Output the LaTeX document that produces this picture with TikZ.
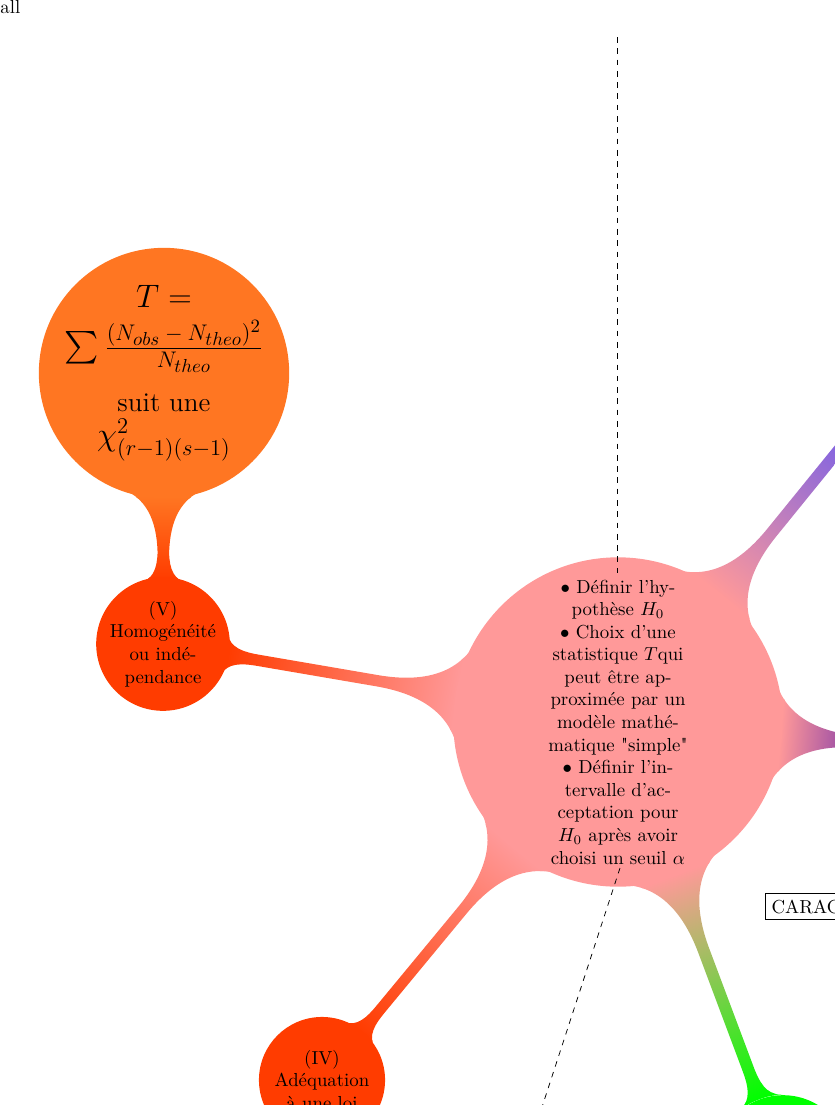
\documentclass[tikz,border=0pt]{standalone}
\usepackage{fontspec}
\usepackage{amsmath}
\usetikzlibrary{mindmap,positioning,backgrounds}

\definecolor{pinkc}{RGB}{255,153,153}
\definecolor{redc}{RGB}{255,60,0}
\definecolor{orangec}{RGB}{255,118,34}
\definecolor{violetc}{RGB}{95,85,245}
\definecolor{purplec}{RGB}{120,50,170}
\definecolor{greenc}{RGB}{0,255,0}

\newfontface\plainlm{lmroman10-regular.otf}
\newcommand{\plainquote}[1]{{\plainlm"}#1{\plainlm"}}

\begin{document}
\begin{tikzpicture}[x=0.5313pt,y=-0.5313pt,
    idea/.style={circle, inner sep=0pt, outer sep=0pt, align=center, text=black, line width=2pt},
    bigidea/.style={idea, fill=pinkc, draw=pinkc, minimum size=173pt},
    topidea/.style={idea, fill=orangec, draw=orangec, minimum size=131pt, inner sep=-8pt, font=\Large},
    branch/.style={idea, fill=redc, draw=redc, minimum size=69pt, inner sep=-2pt},
    offidea/.style={circle, minimum size=71pt},
    link/.style={line width=8pt},
    guide/.style={dashed, thin}]
  \useasboundingbox (0,0) rectangle (835,1105);

  \node[anchor=base west, inner sep=0pt] (tag) at (0,13) {all};

  % central concept
  \node[bigidea] (tests) at (618,722) {$\bullet$ Définir l'hy-\\ pothèse $H_0$\\
    $\bullet$ Choix d'une\\ statistique $T$qui\\ peut être ap-\\ proximée par un\\
    modèle mathé-\\ matique \plainquote{simple}\\ $\bullet$ Définir l'in-\\ tervalle d'ac-\\
    ceptation pour\\ $H_0$ après avoir\\ choisi un seuil $\alpha$};

  % children
  \node[branch] (homog) at (163,644) {(V)\\ Homogénéité\\ ou indé-\\ pendance};
  \node[topidea] (khi) at (164,373) {{\LARGE $T=$}\\[6pt]
    {\LARGE $\sum\frac{(N_{obs}\:-\:N_{theo})^2}{N_{theo}}$}\\[10pt]
    suit une\\ {\LARGE $\chi^2_{(r-1)(s-1)}$}};
  \node[branch, minimum size=65pt] (adeq) at (322,1080) {(IV)\\ Adéquation\\ à une loi};

  % branches leaving the page
  \node[offidea, fill=violetc] (upper) at (920,350) {};
  \node[offidea, fill=purplec] (right) at (935,748) {};
  \node[offidea, fill=greenc] (lower) at (783,1162) {};

  \node[draw, anchor=north west, inner sep=3.33pt, text width=3cm, align=left] (carac) at (765,893) {CARAC};

  % bars
  \begin{scope}[on background layer]
    \path[link] (khi) to[circle connection bar switch color=from (orangec) to (redc)] (homog);
    \path[link] (homog) to[circle connection bar switch color=from (redc) to (pinkc)] (tests);
    \path[link] (tests) to[circle connection bar switch color=from (pinkc) to (redc)] (adeq);
    \path[link] (tests) to[circle connection bar switch color=from (pinkc) to (violetc)] (upper);
    \path[link] (tests) to[circle connection bar switch color=from (pinkc) to (purplec)] (right);
    \path[link] (tests) to[circle connection bar switch color=from (pinkc) to (greenc)] (lower);
  \end{scope}

  % dashed guides
  \coordinate (rule top) at (617,37);
  \coordinate (rule a) at (617,577);
  \coordinate (rule b) at (620,868);
  \coordinate (rule bottom) at (528,1150);
  \draw[guide] (rule top) -- (rule a);
  \draw[guide] (rule b) -- (rule bottom);
\end{tikzpicture}
\end{document}
